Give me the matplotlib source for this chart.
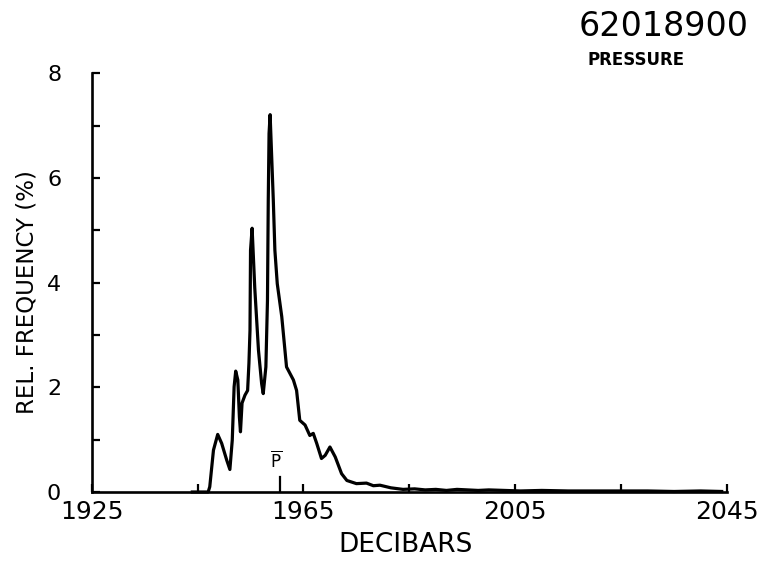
import matplotlib
matplotlib.use("Agg")
import matplotlib.pyplot as plt
from matplotlib.ticker import FixedLocator, NullFormatter

# Pressure histogram (relative frequency, %) vs pressure in decibars
pressure = [1944.0, 1947.0, 1947.3, 1948.0, 1948.8, 1949.55, 1950.5, 1951.1,
            1951.55, 1951.9, 1952.2, 1952.6, 1952.9, 1953.1, 1953.4, 1953.95,
            1954.45, 1954.7, 1954.9, 1955.0, 1955.3, 1955.8, 1956.5, 1957.1,
            1957.4, 1957.9, 1958.2, 1958.35, 1958.5, 1958.7, 1959.3, 1959.6,
            1960.05, 1960.9, 1961.8, 1963.1, 1963.7, 1964.3, 1965.3, 1966.2,
            1966.85, 1967.5, 1968.4, 1969.1, 1970.0, 1971.0, 1972.2, 1973.2,
            1975.0, 1976.9, 1978.2, 1979.45, 1981.5, 1983.8, 1986.0, 1988.0,
            1990.0, 1992.0, 1994.0, 1996.0, 1998.0, 2000.0, 2003.0, 2006.0,
            2010.0, 2015.0, 2020.0, 2025.0, 2030.0, 2035.0, 2040.0, 2044.0]
frequency = [0.0, 0.0, 0.10, 0.80, 1.10, 0.93, 0.61, 0.43,
             0.99, 2.01, 2.31, 2.14, 1.43, 1.15, 1.70, 1.85,
             1.94, 2.46, 3.09, 4.62, 5.04, 3.90, 2.71, 2.07,
             1.88, 2.39, 3.66, 5.58, 6.85, 7.21, 5.58, 4.62,
             3.98, 3.35, 2.39, 2.14, 1.94, 1.37, 1.28, 1.08,
             1.12, 0.93, 0.64, 0.70, 0.86, 0.67, 0.35, 0.22,
             0.16, 0.17, 0.12, 0.13, 0.08, 0.05, 0.06, 0.04,
             0.05, 0.03, 0.05, 0.04, 0.03, 0.04, 0.03, 0.02,
             0.03, 0.02, 0.02, 0.02, 0.02, 0.01, 0.02, 0.01]

mean_pressure = 1960.6

x_major = [1925, 1965, 2005, 2045]
x_minor = [1945, 1985, 2025]
y_major = [0, 2, 4, 6, 8]
y_minor = [1, 3, 5, 7]

station_id = "62018900"
variable_name = "PRESSURE"

W, H = 781, 575
fig = plt.figure(figsize=(W / 100, H / 100), dpi=100)
fig.patch.set_facecolor("white")
ax = fig.add_axes([91.7 / W, 1 - 492 / H, (727 - 91.7) / W, (492 - 73.3) / H])

ax.plot(pressure, frequency, color="black", lw=2.3, solid_joinstyle="round",
        clip_on=False)

ax.set_xlim(x_major[0], x_major[-1])
ax.set_ylim(y_major[0], y_major[-1])

for side in ("top", "right"):
    ax.spines[side].set_visible(False)
for side in ("left", "bottom"):
    ax.spines[side].set_linewidth(1.9)
    ax.spines[side].set_color("black")

ax.xaxis.set_major_locator(FixedLocator(x_major))
ax.xaxis.set_minor_locator(FixedLocator(x_minor))
ax.yaxis.set_major_locator(FixedLocator(y_major))
ax.yaxis.set_minor_locator(FixedLocator(y_minor))
ax.xaxis.set_minor_formatter(NullFormatter())
ax.yaxis.set_minor_formatter(NullFormatter())
ax.set_xticklabels([str(v) for v in x_major])
ax.set_yticklabels([str(v) for v in y_major])

ax.tick_params(axis="both", which="both", direction="in", length=5.5,
               width=1.6, color="black")
ax.tick_params(axis="x", which="major", labelsize=18, pad=6)
ax.tick_params(axis="y", which="major", labelsize=16, pad=22)

# mean pressure marker
ax.plot([mean_pressure, mean_pressure], [0, 0.29], color="black", lw=1.6)
ax.text(mean_pressure - 0.8, 0.40, r"$\overline{\mathrm{P}}$", ha="center",
        va="bottom", fontsize=12)

fig.text(406 / W, 1 - 545 / H, "DECIBARS", ha="center", va="center",
         fontsize=19)
fig.text(27 / W, 1 - 292 / H, "REL. FREQUENCY (%)", ha="center",
         va="center", rotation=90, fontsize=16.5)
fig.text(664 / W, 1 - 27 / H, station_id, ha="center", va="center",
         fontsize=24)
fig.text(636 / W, 1 - 60 / H, variable_name, ha="center", va="center",
         fontsize=12, fontweight="bold")

fig.savefig("out.png", dpi=100, facecolor="white")
